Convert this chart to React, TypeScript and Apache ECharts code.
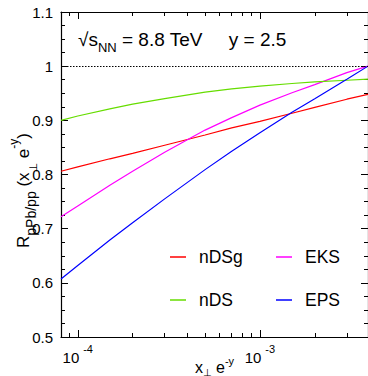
import React, { useEffect, useRef } from "react";
import * as echarts from "echarts";

// x values (x_perp e^-y)
const xPoints = [8.09e-5, 1e-4, 1.5e-4, 2e-4, 3e-4, 5e-4, 7e-4, 1e-3, 1.5e-3, 2e-3, 3e-3, 3.92e-3];
const nDSg = [0.806, 0.814, 0.829, 0.839, 0.854, 0.873, 0.886, 0.898, 0.913, 0.924, 0.939, 0.948];
const nDS = [0.9, 0.908, 0.921, 0.93, 0.94, 0.952, 0.958, 0.963, 0.968, 0.971, 0.974, 0.976];
const EKS = [0.722, 0.742, 0.78, 0.806, 0.841, 0.882, 0.905, 0.928, 0.951, 0.966, 0.988, 1.0];
const EPS = [0.607, 0.632, 0.679, 0.711, 0.755, 0.809, 0.843, 0.877, 0.915, 0.94, 0.976, 1.0];

const xMin = 8.09e-5;
const xMax = 3.92e-3;
const yMin = 0.5;
const yMax = 1.1;
const yStep = 0.1;
const referenceLevel = 1;

const majorXTicks = [1e-4, 1e-3];
const minorXTicks = [9e-5, 2e-4, 3e-4, 4e-4, 5e-4, 6e-4, 7e-4, 8e-4, 9e-4, 2e-3, 3e-3];

const seriesNames = ["nDSg", "EKS", "nDS", "EPS"];
const seriesColors = ["#ff0000", "#ff00ff", "#66dd00", "#0000ff"];
const seriesValues = [nDSg, EKS, nDS, EPS];

const FONT = "'Liberation Sans', Arial, 'DejaVu Sans', sans-serif";

export default function App() {
  const ref = useRef<HTMLDivElement>(null);

  useEffect(() => {
    if (!ref.current) return;
    const chart = echarts.init(ref.current, undefined, { renderer: "svg" });
    const lmin = Math.log10(xMin);
    const lmax = Math.log10(xMax);
    const majorL = majorXTicks.map((v) => Math.log10(v));
    const minorL = minorXTicks.map((v) => Math.log10(v));

    const baseX: any = {
      type: "value",
      min: lmin,
      max: lmax,
      gridIndex: 0,
      splitLine: { show: false },
      axisLabel: { show: false },
    };

    const series: any[] = seriesNames.map((name, i) => ({
      name,
      type: "line",
      xAxisIndex: 0,
      yAxisIndex: 0,
      symbol: "none",
      smooth: false,
      color: seriesColors[i],
      itemStyle: { color: seriesColors[i] },
      lineStyle: { width: 1.2, color: seriesColors[i] },
      data: xPoints.map((x, k) => [Math.log10(x), seriesValues[i][k]]),
      z: 3,
      ...(i === 0
        ? {
            markLine: {
              silent: true,
              symbol: ["none", "none"],
              label: { show: false },
              lineStyle: { color: "#000", type: [1.5, 1.5], width: 1 },
              data: [{ yAxis: referenceLevel }],
            },
          }
        : {}),
    }));

    const legendCommon: any = {
      orient: "vertical",
      top: 248,
      padding: 0,
      icon: "rect",
      itemWidth: 16,
      itemHeight: 1.5,
      itemGap: 25,
      textStyle: {
        fontSize: 17.5,
        lineHeight: 18,
        color: "#000",
        fontFamily: FONT,
        padding: [0, 0, 0, 8],
      },
    };

    const txt = (fontSize: number, extra: any = {}) => ({
      fontSize,
      color: "#000",
      fontFamily: FONT,
      fontWeight: "normal",
      ...extra,
    });

    chart.setOption({
      animation: false,
      backgroundColor: "#fff",
      textStyle: { fontFamily: FONT },
      grid: { left: 61, right: 0, top: 12, bottom: 39, containLabel: false, outerBoundsMode: "none" },
      title: {
        left: 78,
        top: 24,
        padding: 0,
        text: "{a|√s}{sub|NN}{a| = 8.8 TeV     y = 2.5}",
        textStyle: {
          fontWeight: "normal",
          rich: {
            a: txt(19, { lineHeight: 30, verticalAlign: "middle" }),
            sub: txt(13, { verticalAlign: "bottom" }),
          },
        },
      },
      legend: [
        { ...legendCommon, left: 170, data: ["nDSg", "nDS"] },
        { ...legendCommon, left: 276, data: ["EKS", "EPS"] },
      ],
      xAxis: [
        {
          ...baseX,
          position: "bottom",
          axisLine: { show: true, lineStyle: { color: "#000", width: 1.2 } },
          axisTick: { show: true, inside: true, length: 7, customValues: majorL, lineStyle: { color: "#000" } },
          axisLabel: {
            show: true,
            customValues: majorL,
            margin: 6,
            formatter: (v: number) => `{b|10}{s|${Math.round(v)}}`,
            rich: {
              b: txt(15, { lineHeight: 28, verticalAlign: "middle" }),
              s: txt(11, { verticalAlign: "top", padding: [0, 0, 0, 4] }),
            },
          },
          name: "{a|x}{sub|⊥}{a| e}{sup|-y}",
          nameLocation: "middle",
          nameGap: 18,
          nameMoveOverlap: false,
          nameTextStyle: {
            rich: {
              a: txt(16, { lineHeight: 25, verticalAlign: "middle" }),
              sub: txt(10, { verticalAlign: "bottom", padding: [0, 0, 3, 0] }),
              sup: txt(11, { verticalAlign: "top" }),
            },
          },
        },
        {
          ...baseX,
          position: "bottom",
          axisLine: { show: false },
          axisTick: { show: true, inside: true, length: 4, customValues: minorL, lineStyle: { color: "#000" } },
        },
        {
          ...baseX,
          position: "top",
          axisLine: { show: true, lineStyle: { color: "#000", width: 1.2 } },
          axisTick: { show: true, inside: true, length: 7, customValues: majorL, lineStyle: { color: "#000" } },
        },
        {
          ...baseX,
          position: "top",
          axisLine: { show: false },
          axisTick: { show: true, inside: true, length: 4, customValues: minorL, lineStyle: { color: "#000" } },
        },
      ],
      yAxis: [
        {
          type: "value",
          min: yMin,
          max: yMax,
          interval: yStep,
          position: "left",
          axisLine: { show: true, lineStyle: { color: "#000", width: 1.2 } },
          axisTick: { show: true, inside: true, length: 7, lineStyle: { color: "#000" } },
          minorTick: { show: true, splitNumber: 4, length: 4, lineStyle: { color: "#000" } },
          splitLine: { show: false },
          axisLabel: {
            margin: 8,
            fontSize: 15,
            color: "#000",
            fontFamily: FONT,
            formatter: (v: number) => String(Math.round(v * 10) / 10),
          },
        },
        {
          type: "value",
          min: yMin,
          max: yMax,
          interval: yStep,
          position: "right",
          axisLine: { show: true, lineStyle: { color: "#000", width: 1.2 } },
          axisTick: { show: true, inside: true, length: 7, lineStyle: { color: "#000" } },
          minorTick: { show: true, splitNumber: 4, length: 4, lineStyle: { color: "#000" } },
          splitLine: { show: false },
          axisLabel: { show: false },
        },
      ],
      graphic: [
        {
          type: "text",
          x: 23.4,
          y: 190.5,
          rotation: Math.PI / 2,
          style: {
            text: "{a|R}{sub|pPb/pp}{a| (x}{sub2|⊥}{a| e}{sup|-y}{a|)}",
            align: "center",
            verticalAlign: "middle",
            fill: "#000",
            rich: {
              a: { fontSize: 17, lineHeight: 30, verticalAlign: "middle", fill: "#000", fontFamily: FONT },
              sub: { fontSize: 14, verticalAlign: "bottom", fill: "#000", fontFamily: FONT },
              sub2: { fontSize: 11, verticalAlign: "bottom", fill: "#000", fontFamily: FONT },
              sup: { fontSize: 12, verticalAlign: "top", fill: "#000", fontFamily: FONT },
            },
          },
        },
      ],
      series,
    });
    return () => chart.dispose();
  }, []);

  return (
    <div
      ref={ref}
      style={{ position: "fixed", left: 0, top: 0, width: 368, height: 376 }}
    />
  );
}
